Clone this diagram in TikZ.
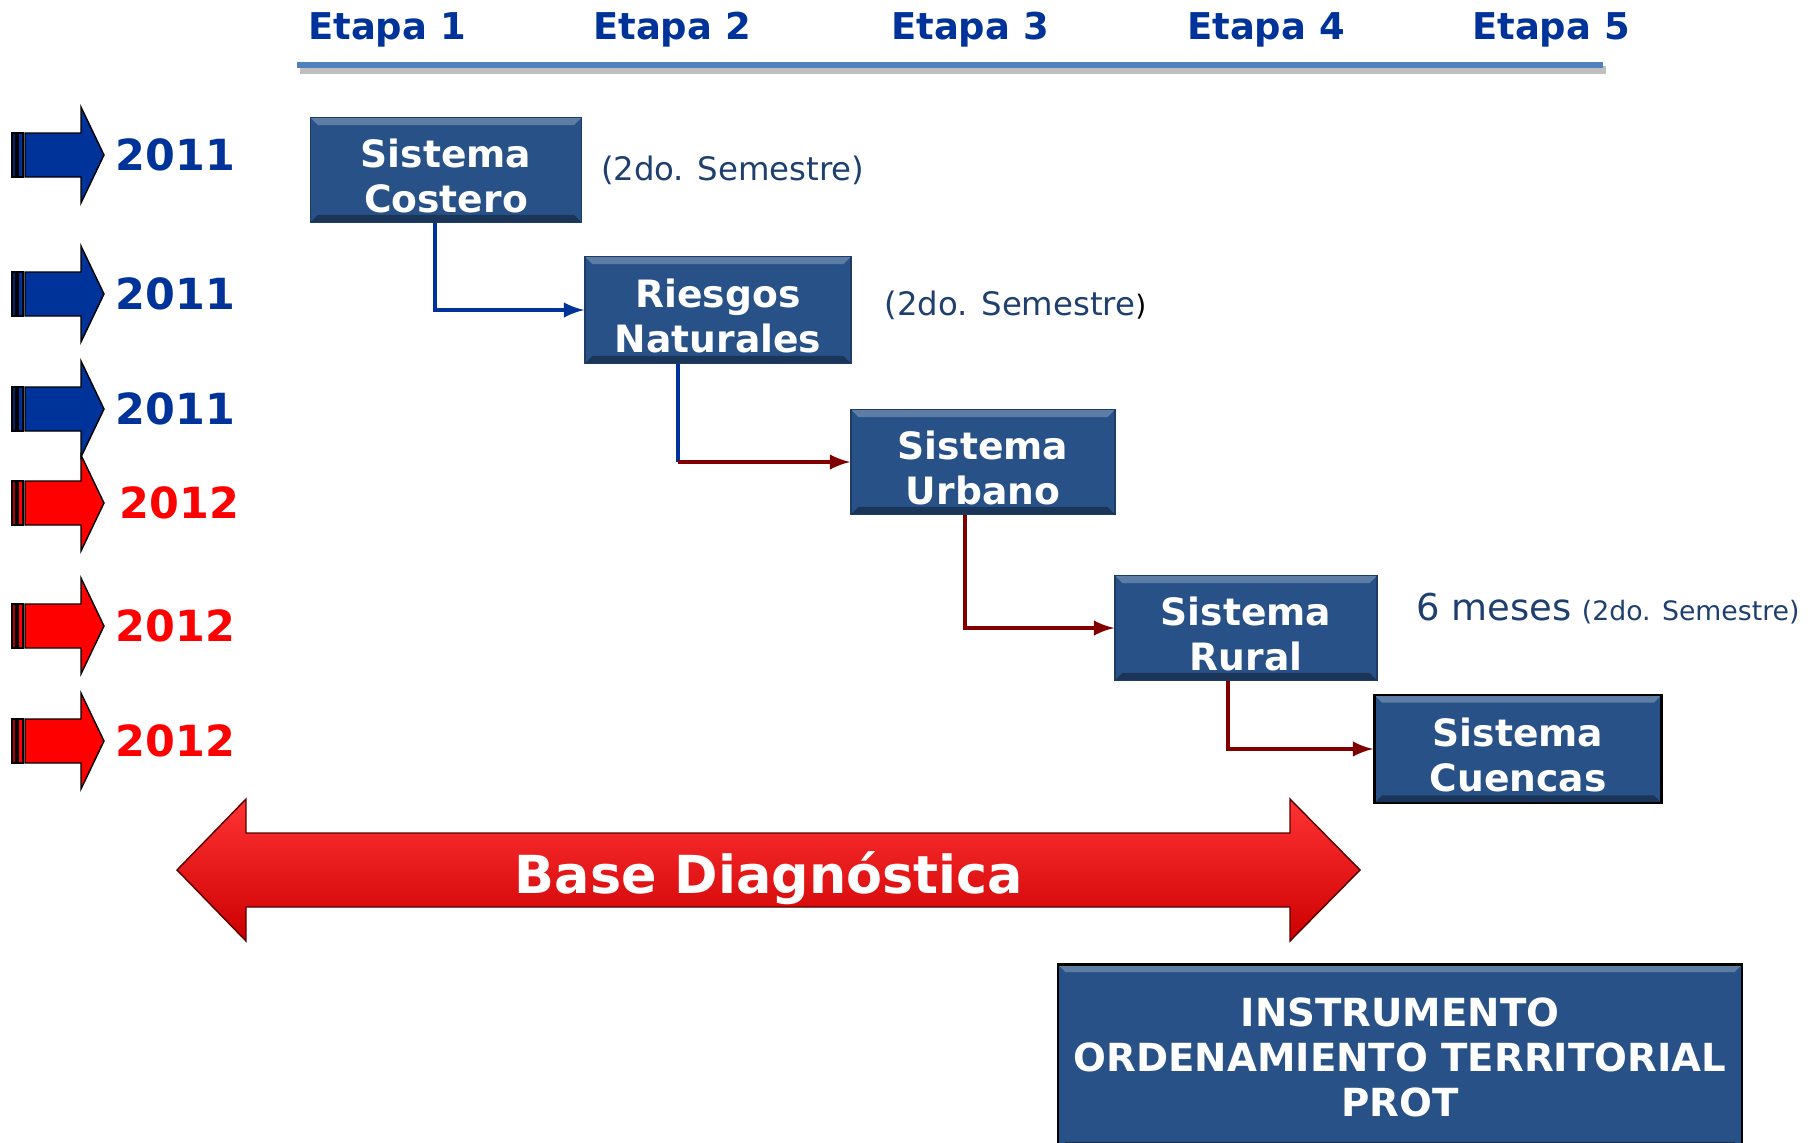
\documentclass[tikz,border=0pt]{standalone}
\usepackage{fontspec}
\setmainfont{DejaVu Sans}
\usetikzlibrary{arrows, positioning}

\definecolor{boxblue}{RGB}{40,82,135}
\definecolor{yearblue}{RGB}{0,51,153}
\definecolor{yearred}{RGB}{255,0,0}
\definecolor{linkred}{RGB}{128,0,0}
\definecolor{notecolor}{RGB}{31,64,110}
\definecolor{headline}{RGB}{79,129,189}
\newcommand{\padtop}{\rule{0pt}{4mm}}

\begin{document}
\begin{tikzpicture}[x=0.01cm, y=-0.01cm]
    \tikzset{
        box/.style = {rectangle, fill=boxblue, draw=boxblue!75!black, thin, text=white, align=center,
            inner sep=0pt, font=\bfseries\fontsize{10.7}{12.8}\selectfont,
            path picture={
                \fill[boxblue!75!white] (path picture bounding box.north west) -- (path picture bounding box.north east)
                    -- ([shift={(-2.2pt,-2.2pt)}]path picture bounding box.north east) -- ([shift={(2.2pt,-2.2pt)}]path picture bounding box.north west) -- cycle;
                \fill[boxblue!65!black] (path picture bounding box.south west) -- (path picture bounding box.south east)
                    -- ([shift={(-2.2pt,2.2pt)}]path picture bounding box.south east) -- ([shift={(2.2pt,2.2pt)}]path picture bounding box.south west) -- cycle;
            }},
        etapa/.style = {anchor=base, text=yearblue, font=\bfseries\fontsize{10.5}{12}\selectfont},
        year/.style = {anchor=west, inner sep=0pt, font=\bfseries\fontsize{12.2}{14}\selectfont},
        note/.style = {inner sep=0pt, text=notecolor, font=\fontsize{9.2}{11}\selectfont},
        bigtext/.style = {anchor=base, text=white, font=\bfseries\fontsize{14.9}{17}\selectfont},
        yeararrow/.style = {draw=black, thin},
        bluelink/.style = {draw=yearblue, line width=1pt},
        redlink/.style = {draw=linkred, line width=1pt, -latex},
    }
    \useasboundingbox (0,0) rectangle (1810,1142);

    % stages
    \foreach \x [count=\i] in {387,672,970,1266,1551}
        \node[etapa] (etapa\i) at (\x,39) {Etapa \i};
    \draw[black!25, line width=2pt] (300,70) -- (1606,70);
    \draw[headline, line width=1.7pt] (297,65) -- (1603,65);

    % years
    \foreach \y/\c/\t/\tx in {155/yearblue/2011/115, 294/yearblue/2011/115, 409/yearblue/2011/115,
                              503/yearred/2012/119, 626/yearred/2012/115, 741/yearred/2012/115}{
        \filldraw[yeararrow, fill=\c] (25,\y-22) -- (81,\y-22) -- (81,\y-48) -- (104,\y)
            -- (81,\y+48) -- (81,\y+22) -- (25,\y+22) -- cycle;
        \filldraw[yeararrow, fill=\c!70!black] (12,\y-22) rectangle (16,\y+22);
        \filldraw[yeararrow, fill=\c] (18,\y-22) rectangle (23,\y+22);
        \node[year, text=\c] (year\y) at (\tx,\y) {\t};
    }

    % systems
    \node[box, minimum width=2.71cm, minimum height=1.05cm](costero) at (446,170){\padtop Sistema\\Costero};
    \node[box, minimum width=2.66cm, minimum height=1.07cm](riesgos) at (718,310){\padtop Riesgos\\Naturales};
    \node[box, minimum width=2.64cm, minimum height=1.05cm](urbano) at (983,462){\padtop Sistema\\Urbano};
    \node[box, minimum width=2.62cm, minimum height=1.05cm](rural) at (1246,628){\padtop Sistema\\Rural};
    \node[box, draw=black, line width=0.7pt, minimum width=2.87cm, minimum height=1.08cm](cuencas) at (1518,749){\padtop Sistema\\Cuencas};

    \node[note](sem1)[right = 0.18cm of costero]{(2do. Semestre)};
    \node[note](sem2)[right = 0.32cm of riesgos, yshift=0.05cm]{(2do. Semestre\textcolor{black}{\fontsize{8}{10}\selectfont)}};
    \node[note](sem3)[right = 0.38cm of rural, yshift=0.19cm]{{\fontsize{10.5}{12}\selectfont 6 meses} {\fontsize{7.6}{9}\selectfont (2do. Semestre)}};

    \draw[bluelink, -latex] ([xshift=-0.11cm]costero.south) |- (riesgos.west);
    \coordinate (drop2) at ([xshift=-0.4cm]riesgos.south);
    \coordinate (bend2) at (drop2 |- urbano.west);
    \draw[bluelink] (drop2) -- (bend2);
    \draw[redlink] (bend2) -- (urbano.west);
    \draw[redlink] ([xshift=-0.18cm]urbano.south) |- (rural.west);
    \draw[redlink] ([xshift=-0.18cm]rural.south) |- (cuencas.west);

    % base
    \shadedraw[top color=red!80!white, middle color=red, bottom color=red!80!black, draw=red!35!black, thin]
        (177,870) -- (246,799) -- (246,833) -- (1290,833) -- (1290,799) -- (1360,870)
        -- (1290,941) -- (1290,907) -- (246,907) -- (246,941) -- cycle;
    \node[bigtext](base) at (769,893){Base Diagnóstica};

    \node[box, draw=black, line width=0.7pt, minimum width=6.84cm, minimum height=1.85cm,
        font=\bfseries\fontsize{11}{12.8}\selectfont](prot) at (1400,1057){INSTRUMENTO\\ORDENAMIENTO TERRITORIAL\\PROT};
\end{tikzpicture}
\end{document}
